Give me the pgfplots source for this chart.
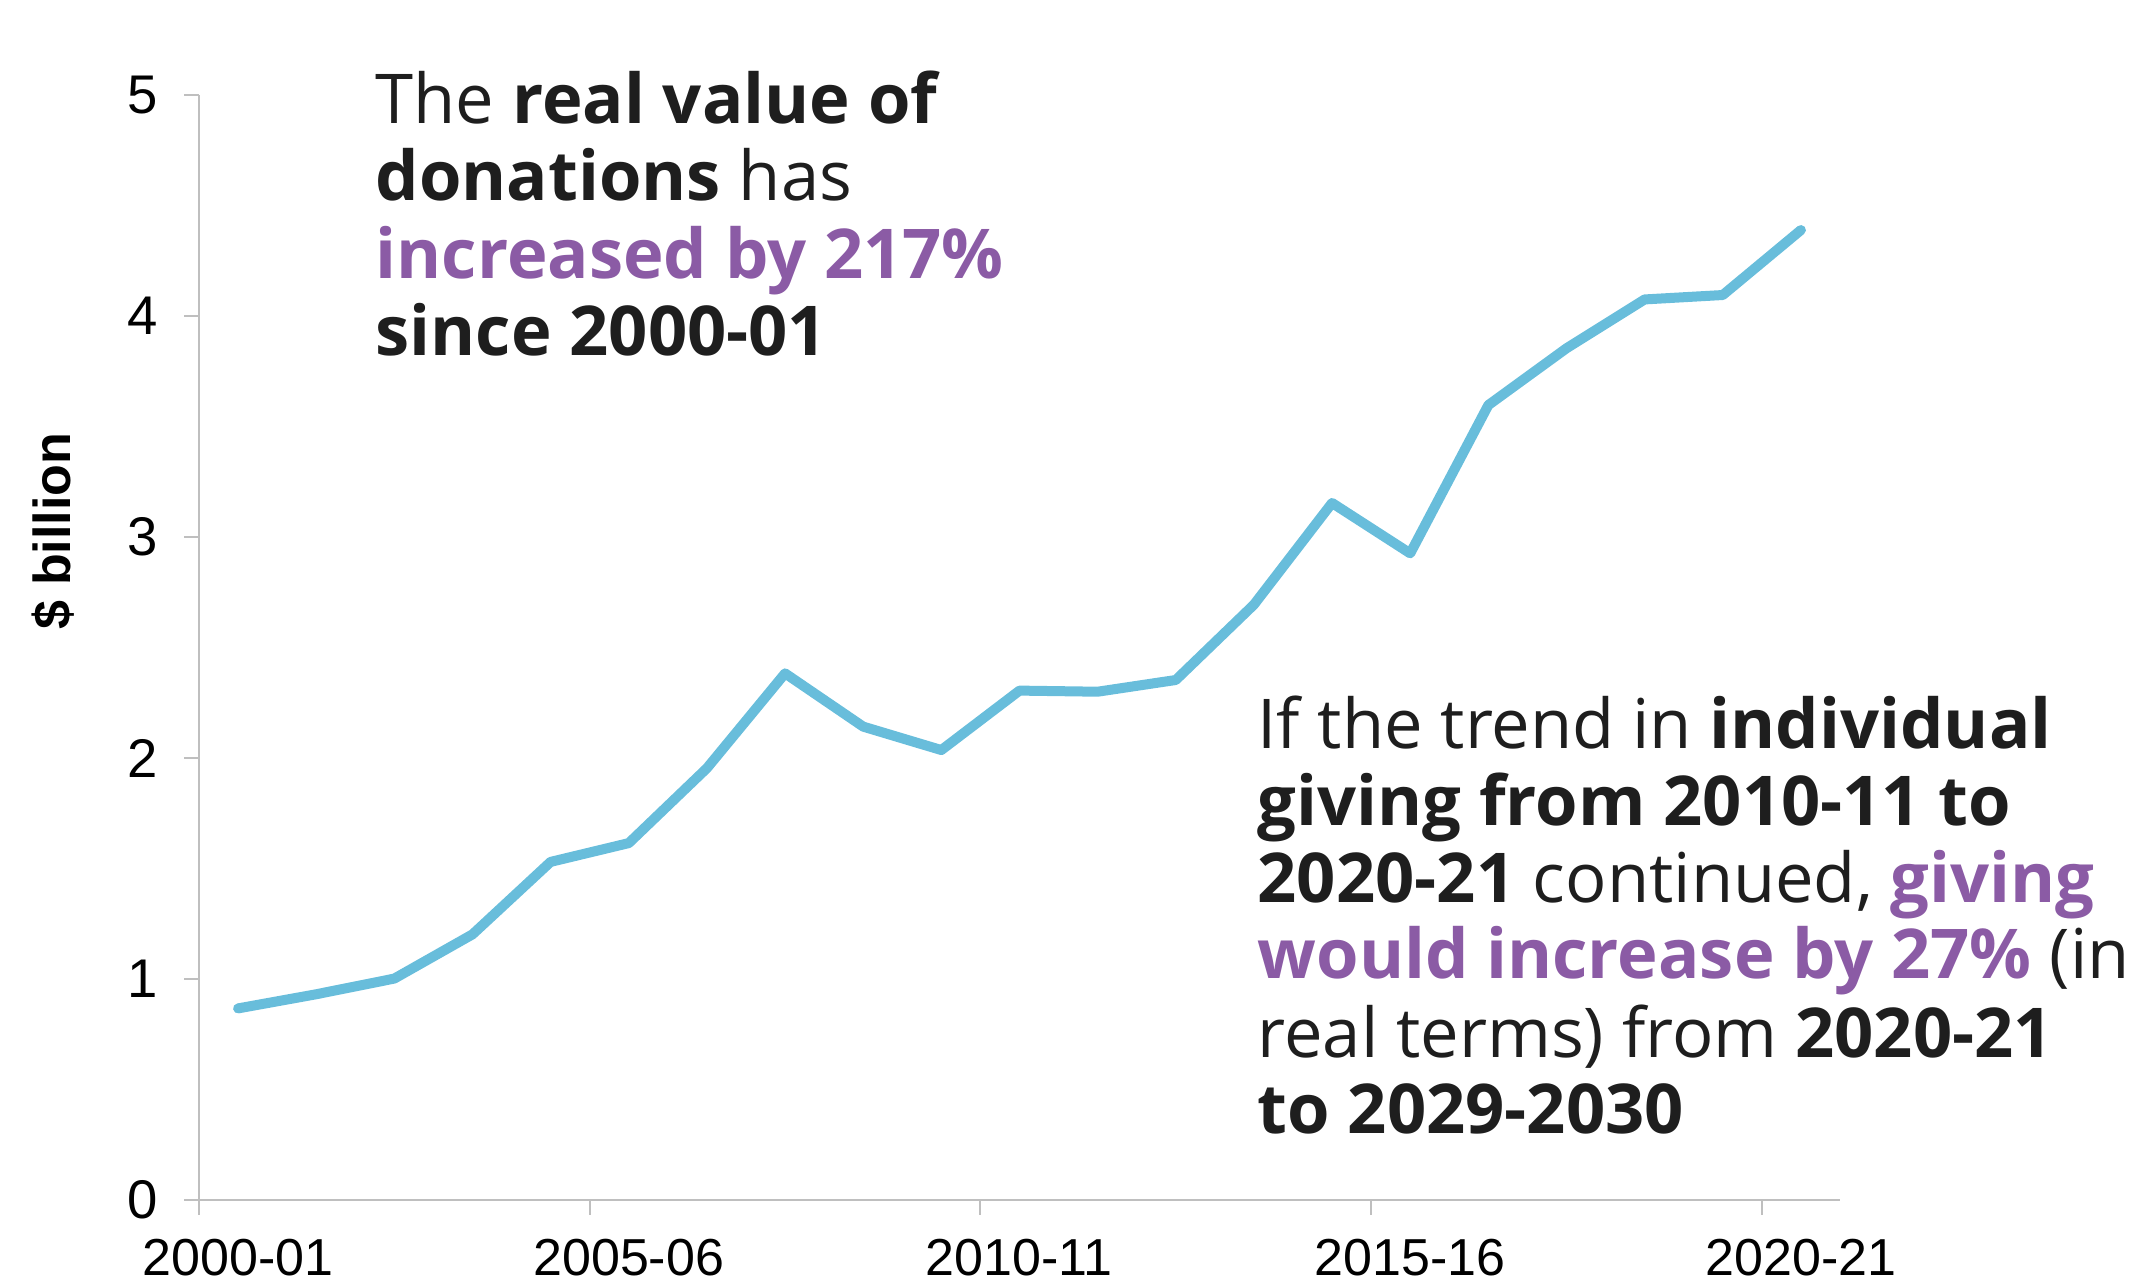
\documentclass[border=0pt]{standalone}
\usepackage{pgfplots}
\pgfplotsset{compat=1.18}
\usepackage{fontspec}
\setmainfont{Liberation Sans}
\newfontfamily\opensans{Open Sans}
\definecolor{lineblue}{RGB}{104,189,219}
\definecolor{axisgray}{RGB}{191,191,191}
\definecolor{notepurple}{RGB}{139,91,165}
\definecolor{notetext}{RGB}{30,30,30}
\newcommand{\notefont}{\opensans\fontsize{19.55}{21.9}\selectfont}
\begin{document}
\begin{tikzpicture}
\path[use as bounding box] (-19.9mm,-8.3mm) rectangle (193.6mm,120mm);
\begin{axis}[
    at={(0,0)}, anchor=south west,
    scale only axis,
    width=164.1mm, height=110.5mm,
    xmin=0, xmax=21, ymin=0, ymax=5,
    axis lines=left,
    axis line style={-, axisgray, line width=0.25mm},
    xtick={0,5,10,15,20},
    xticklabels={2000-01,2005-06,2010-11,2015-16,2020-21},
    ytick={0,1,2,3,4,5},
    tick align=outside,
    major tick length=1.45mm,
    tick style={axisgray, line width=0.2mm},
    % labels sit under the category, half a step right of the tick
    xticklabel style={font=\fontsize{14.8}{17}\selectfont, xshift=3.9mm, yshift=-1.2mm},
    yticklabel style={font=\fontsize{15.5}{18}\selectfont, xshift=-1.4mm},
    /pgf/number format/assume math mode=true,
    clip=false
]
% donations, $ billion (real), 2000-01 to 2020-21
\addplot[lineblue, line width=1mm, line cap=round, line join=round] coordinates {
    (0.5,0.867) (1.5,0.931) (2.5,1.002) (3.5,1.202) (4.5,1.530)
    (5.5,1.615) (6.5,1.954) (7.5,2.383) (8.5,2.142) (9.5,2.036)
    (10.5,2.305) (11.5,2.300) (12.5,2.353) (13.5,2.694) (14.5,3.154)
    (15.5,2.926) (16.5,3.597) (17.5,3.854) (18.5,4.075) (19.5,4.095)
    (20.5,4.389)
};
\end{axis}
\node[rotate=90, font=\bfseries\fontsize{14.8}{17}\selectfont] at (-14.6mm,66.9mm) {\$ billion};
% top-left note
\begin{scope}[every node/.style={anchor=base west, inner sep=0pt, text=notetext, font=\notefont}]
\node at (17.6mm,107.7mm) {The \textbf{real value of}};
\node at (17.6mm,100.0mm) {\textbf{donations} has};
\node at (17.6mm,92.2mm) {\textbf{\textcolor{notepurple}{increased by 217\%}}};
\node at (17.6mm,84.5mm) {\textbf{since 2000-01}};
% bottom-right note
\node at (105.8mm,45.2mm) {If the trend in \textbf{individual}};
\node at (105.8mm,37.5mm) {\textbf{giving from 2010-11 to}};
\node at (105.8mm,29.8mm) {\textbf{2020-21} continued, \textbf{\textcolor{notepurple}{giving}}};
\node at (105.8mm,22.2mm) {\textbf{\textcolor{notepurple}{would increase by 27\%}} (in};
\node at (105.8mm,14.3mm) {real terms) from \textbf{2020-21}};
\node at (105.8mm,6.7mm) {\textbf{to 2029-2030}};
\end{scope}
\end{tikzpicture}
\end{document}
